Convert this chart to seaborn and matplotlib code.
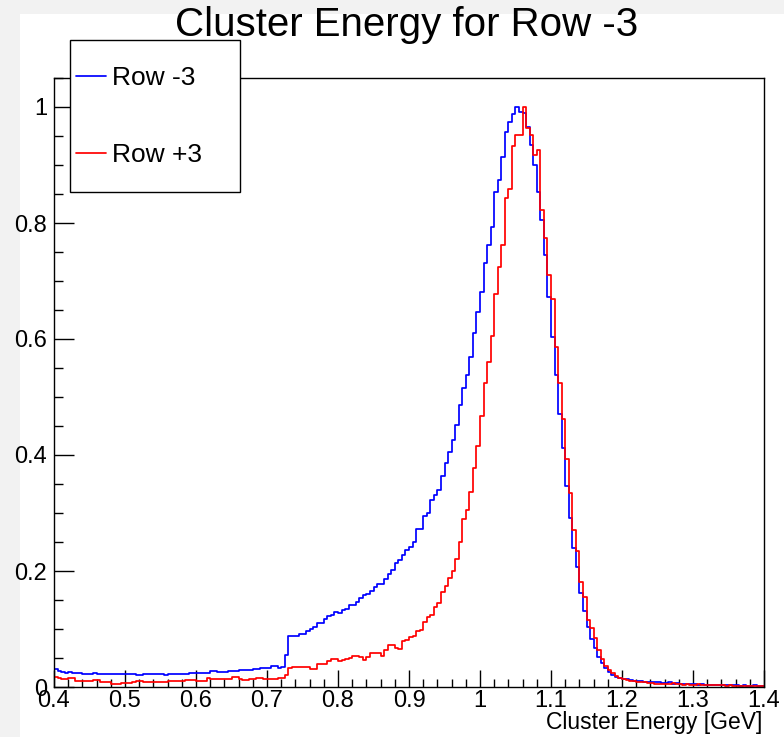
import numpy as np
import pandas as pd
import matplotlib
matplotlib.use("Agg")
import matplotlib.pyplot as plt
import seaborn as sns
from matplotlib.patches import Rectangle
from matplotlib.lines import Line2D
from matplotlib.ticker import MultipleLocator, FuncFormatter

# histogram binning (GeV)
e_min, e_max, bin_w = 0.4, 1.4, 0.005

# Row -3 (blue), normalised to peak = 1
row_m3_low = [  # 0.400 - 0.715
    0.031, 0.028, 0.026, 0.025, 0.026, 0.025, 0.025, 0.024, 0.023, 0.023,
    0.023, 0.024, 0.023, 0.023, 0.023, 0.022, 0.022, 0.023, 0.023, 0.023,
    0.022, 0.022, 0.022, 0.021, 0.021, 0.022, 0.022, 0.022, 0.023, 0.023,
    0.023, 0.021, 0.022, 0.023, 0.023, 0.022, 0.023, 0.023, 0.025, 0.025,
    0.025, 0.025, 0.025, 0.025, 0.027, 0.027, 0.026, 0.026, 0.026, 0.028,
    0.028, 0.028, 0.029, 0.030, 0.030, 0.029, 0.031, 0.031, 0.032, 0.033,
    0.033, 0.036, 0.036, 0.033,
]
row_m3_peak = [  # 0.720 - 1.180
    0.034, 0.055, 0.088, 0.088, 0.088, 0.092, 0.091, 0.097, 0.100, 0.104,
    0.111, 0.110, 0.118, 0.122, 0.124, 0.130, 0.128, 0.132, 0.134, 0.141,
    0.142, 0.147, 0.154, 0.158, 0.161, 0.166, 0.173, 0.178, 0.178, 0.186,
    0.195, 0.202, 0.213, 0.219, 0.228, 0.236, 0.242, 0.250, 0.273, 0.272,
    0.294, 0.300, 0.322, 0.331, 0.340, 0.363, 0.387, 0.406, 0.426, 0.452,
    0.486, 0.515, 0.538, 0.569, 0.610, 0.647, 0.681, 0.731, 0.762, 0.793,
    0.853, 0.874, 0.914, 0.957, 0.974, 0.988, 1.000, 0.991, 0.990, 0.966,
    0.934, 0.900, 0.853, 0.805, 0.745, 0.672, 0.603, 0.538, 0.471, 0.412,
    0.347, 0.291, 0.240, 0.207, 0.162, 0.131, 0.103, 0.083, 0.067, 0.052,
    0.041, 0.033, 0.026,
]
row_m3_tail = [  # 1.185 - 1.395
    0.021, 0.018, 0.016, 0.014, 0.013, 0.012, 0.011, 0.010, 0.010, 0.009,
    0.009, 0.008, 0.008, 0.008, 0.007, 0.007, 0.008, 0.006, 0.007, 0.006,
    0.006, 0.006, 0.005, 0.005, 0.004, 0.005, 0.004, 0.004, 0.004, 0.004,
    0.003, 0.004, 0.004, 0.003, 0.003, 0.003, 0.002, 0.003, 0.002, 0.002,
    0.003, 0.002, 0.002,
]

# Row +3 (red)
row_p3_low = [
    0.017, 0.016, 0.013, 0.013, 0.015, 0.015, 0.011, 0.011, 0.010, 0.010,
    0.010, 0.012, 0.012, 0.008, 0.008, 0.008, 0.006, 0.006, 0.006, 0.007,
    0.007, 0.007, 0.008, 0.011, 0.011, 0.008, 0.009, 0.009, 0.009, 0.009,
    0.009, 0.009, 0.010, 0.011, 0.010, 0.011, 0.011, 0.012, 0.012, 0.012,
    0.011, 0.011, 0.011, 0.015, 0.014, 0.014, 0.014, 0.013, 0.014, 0.014,
    0.017, 0.017, 0.013, 0.012, 0.012, 0.014, 0.014, 0.015, 0.015, 0.014,
    0.013, 0.013, 0.013, 0.016,
]
row_p3_peak = [
    0.015, 0.021, 0.032, 0.034, 0.035, 0.034, 0.034, 0.034, 0.031, 0.031,
    0.039, 0.039, 0.039, 0.044, 0.049, 0.048, 0.045, 0.047, 0.049, 0.050,
    0.053, 0.053, 0.052, 0.047, 0.051, 0.058, 0.058, 0.058, 0.053, 0.063,
    0.072, 0.072, 0.068, 0.066, 0.080, 0.081, 0.087, 0.088, 0.097, 0.099,
    0.112, 0.121, 0.124, 0.138, 0.144, 0.163, 0.175, 0.188, 0.200, 0.220,
    0.250, 0.290, 0.305, 0.336, 0.378, 0.416, 0.467, 0.525, 0.560, 0.605,
    0.678, 0.724, 0.762, 0.843, 0.859, 0.933, 0.952, 0.952, 1.000, 0.964,
    0.952, 0.917, 0.926, 0.822, 0.774, 0.710, 0.669, 0.586, 0.524, 0.462,
    0.393, 0.334, 0.271, 0.234, 0.181, 0.155, 0.116, 0.102, 0.084, 0.064,
    0.048, 0.036, 0.029,
]
row_p3_tail = [
    0.024, 0.019, 0.016, 0.013, 0.012, 0.011, 0.010, 0.009, 0.008, 0.008,
    0.007, 0.007, 0.006, 0.006, 0.005, 0.005, 0.006, 0.007, 0.005, 0.005,
    0.004, 0.005, 0.004, 0.004, 0.005, 0.004, 0.003, 0.003, 0.004, 0.003,
    0.003, 0.003, 0.002, 0.003, 0.002, 0.002, 0.002, 0.002, 0.001, 0.002,
    0.002, 0.002, 0.001,
]

labels = ["Row -3", "Row +3"]
colors = ["blue", "red"]

row_m3 = row_m3_low + row_m3_peak + row_m3_tail
row_p3 = row_p3_low + row_p3_peak + row_p3_tail

n_bins = len(row_m3)
centers = e_min + bin_w * (np.arange(n_bins) + 0.5)

sns.set_style("white")
plt.rcParams['font.family'] = ['Liberation Sans', 'DejaVu Sans']
plt.rcParams['text.color'] = 'black'

W, H = 784, 737
fig = plt.figure(figsize=(W / 100, H / 100), dpi=100, facecolor="#f2f2f2")
# white canvas (ROOT pad) with a thin grey margin at left/top
fig.patches.append(Rectangle((20 / W, 0), 1 - 20 / W, 1 - 14 / H, transform=fig.transFigure,
                             facecolor="white", edgecolor="none", zorder=-10))

ax = fig.add_axes([54 / W, 50 / H, 710 / W, 609 / H])
ax.set_facecolor("white")

for vals, lab, col in zip([row_m3, row_p3], labels, colors):
    df = pd.DataFrame({"energy": centers, "entries": vals})
    sns.histplot(data=df, x="energy", weights="entries", bins=n_bins, binrange=(e_min, e_max),
                 element="step", fill=False, color=col, linewidth=1.25, ax=ax, label=lab)

ax.set_xlim(e_min, e_max)
ax.set_ylim(0, 1.05)
ax.set_xlabel("")
ax.set_ylabel("")

for s in ax.spines.values():
    s.set_color("black")
    s.set_linewidth(1.0)

fmt = FuncFormatter(lambda v, p: f"{v:g}")
ax.xaxis.set_major_locator(MultipleLocator(0.1))
ax.xaxis.set_minor_locator(MultipleLocator(0.02))
ax.yaxis.set_major_locator(MultipleLocator(0.2))
ax.yaxis.set_minor_locator(MultipleLocator(0.05))
ax.xaxis.set_major_formatter(fmt)
ax.yaxis.set_major_formatter(fmt)
ax.tick_params(which="both", direction="in", bottom=True, left=True, top=False, right=False,
               width=1, color="black", labelcolor="black", labelsize=17)
ax.tick_params(axis="x", which="major", length=12, pad=2)
ax.tick_params(axis="x", which="minor", length=6)
ax.tick_params(axis="y", which="major", length=14.5, pad=5)
ax.tick_params(axis="y", which="minor", length=6.5)

fig.text(407 / W, 1 - 25 / H, "Cluster Energy for Row -3", ha="center", va="center",
         fontsize=29, color="black")
fig.text(762 / W, 1 - 723 / H, "Cluster Energy [GeV]", ha="right", va="center",
         fontsize=16.5, color="black")

# legend box (fixed size, drawn over the frame)
fig.patches.append(Rectangle((70 / W, 1 - 192 / H), 170 / W, 152 / H, transform=fig.transFigure,
                             facecolor="white", edgecolor="black", linewidth=1.0, zorder=5))
handles = [Line2D([], [], color=c, linewidth=1.25) for c in colors]
leg = fig.legend(handles, labels, loc="upper left", bbox_to_anchor=(76 / W, 1 - 66 / H),
                 frameon=False, fontsize=19, handlelength=1.15, handletextpad=0.22,
                 labelspacing=2.0, borderpad=0, borderaxespad=0)
leg.set_zorder(6)
for t in leg.get_texts():
    t.set_color("black")

fig.savefig("out.png", dpi=100, facecolor=fig.get_facecolor())
